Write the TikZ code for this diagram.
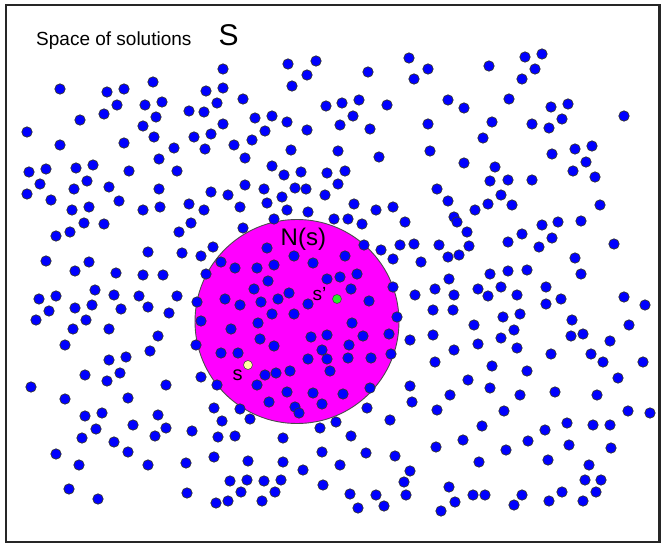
\documentclass[tikz,border=0pt]{standalone}
\usepackage{fontspec}
\setmainfont{Liberation Sans}
\definecolor{dotblue}{RGB}{0,0,255}
\definecolor{nbhd}{RGB}{255,0,255}
\definecolor{syellow}{RGB}{255,255,160}
\definecolor{sgreen}{RGB}{40,235,40}
\tikzset{
  bluedot/.style={fill=dotblue,draw=black!80,line width=0.7pt},
  frame/.style={draw=black!85,line width=2.6pt},
  lbl/.style={inner sep=0pt,anchor=base west,text=black}
}
\begin{document}
\begin{tikzpicture}[x=1pt,y=-1pt]
\useasboundingbox (0,0) rectangle (662,544);
\fill[white] (0,0) rectangle (662,544);
% neighbourhood
\filldraw[fill=nbhd,draw=black!70,line width=0.9pt] (297,321.5) circle (102pt);
% dots
\foreach \px/\py in {
60/89, 107/92, 124/89, 153/82, 117/105, 145/105, 162/102, 80/120, 104/114, 156/117, 27/132, 143/126, 60/145, 124/143, 154/137, 159/159, 29/172, 46/169, 76/168, 93/165, 129/171, 87/181, 40/184,
223/69, 288/64, 316/61, 307/75, 292/86, 206/91, 223/88, 243/99, 189/111, 204/112, 217/103, 326/106, 223/124, 255/118, 272/116, 287/122, 307/130, 194/137, 211/134, 265/131, 252/140, 174/148, 205/149, 234/145, 291/150, 245/158, 177/171, 272/166, 284/175, 301/172, 327/173, 245/185,
409/58, 428/69, 414/79, 368/72, 489/66, 342/103, 359/100, 387/105, 353/116, 340/125, 370/129, 448/100, 464/108, 428/124, 492/122, 483/138, 338/151, 379/157, 430/151, 464/163, 345/171, 495/167, 490/181, 338/184,
525/57, 542/54, 535/69, 522/79, 509/99, 551/107, 568/104, 624/116, 532/124, 549/128, 562/119, 552/154, 575/149, 592/146, 586/162, 573/171, 595/177, 508/180, 532/180,
27/194, 51/200, 74/189, 109/187, 119/201, 159/189, 72/210, 89/207, 143/210, 160/207, 84/223, 104/224, 56/236, 70/232, 148/252, 46/261, 75/271, 89/262, 116/273, 143/275, 163/275, 39/299, 56/296, 95/290, 114/295, 139/296, 49/311, 36/320, 75/308, 92/305, 121/309, 148/307, 86/320, 73/329, 109/329, 65/345, 158/336, 150/351, 109/360, 126/357,
211/192, 228/195, 264/189, 282/197, 295/188, 306/189, 325/195, 189/204, 204/210, 240/207, 267/203, 287/210, 308/212, 191/223, 179/232, 243/228, 274/219, 213/247, 182/253, 201/256, 221/262, 267/248, 294/256, 313/263, 235/268, 257/268, 274/265, 206/274, 268/281, 327/279, 177/296, 254/289, 289/293, 197/302, 225/299, 240/305, 261/302, 278/299, 308/304, 169/313, 272/314, 294/314, 201/321, 231/329, 258/323, 311/337, 327/335, 196/345, 260/339, 274/346, 221/353, 238/353, 322/350, 308/359, 327/359,
437/189, 448/201, 354/204, 376/210, 393/207, 475/210, 488/204, 334/219, 348/219, 362/224, 405/222, 454/217, 457/222, 467/232, 364/245, 381/250, 400/245, 414/244, 439/245, 469/246, 448/257, 459/255, 345/256, 393/259, 421/262, 490/274, 357/274, 340/277, 449/279, 351/289, 393/287, 435/289, 454/295, 478/289, 488/296, 415/295, 369/301, 433/310, 453/310, 397/317, 352/323, 363/336, 389/334, 410/340, 433/335, 474/325, 349/345, 454/350, 478/344, 348/358, 371/358, 391/354,
501/195, 512/205, 600/205, 542/225, 558/222, 581/221, 522/234, 552/238, 508/242, 539/247, 614/244, 575/258, 581/274, 508/271, 527/270, 501/287, 517/295, 546/287, 546/304, 561/299, 624/297, 645/305, 503/317, 520/314, 514/330, 572/320, 501/338, 571/336, 583/334, 629/325, 610/341, 517/348, 551/354, 591/354, 603/362, 643/362,
85/375, 107/381, 120/373, 31/387, 65/399, 128/398, 85/416, 102/413, 96/429, 133/425, 158/415, 82/438, 114/442, 155/436, 166/428, 166/385, 56/454, 79/465, 128/452, 148/465, 69/489, 98/499,
330/371, 290/371, 276/373, 265/375, 257/385, 217/385, 201/377, 370/388, 343/394, 313/393, 287/392, 322/404, 295/407, 299/413, 269/402, 240/409, 214/408, 222/421, 250/419, 192/431, 218/437, 235/436, 283/438, 320/428, 336/422, 351/436, 367/408, 390/420, 410/386, 412/402,
187/493, 216/503, 228/501, 241/492, 262/501, 275/492, 230/481, 247/480, 264/481, 281/480, 323/485, 350/494, 358/508, 376/495, 384/506, 404/482, 406/495, 441/511, 449/487, 455/502, 473/495, 485/495, 514/505, 522/495, 549/501, 562/492, 583/501, 596/492, 585/480, 601/480,
186/463, 214/457, 248/461, 283/462, 303/470, 322/452, 340/465, 366/453, 395/456, 410/471,
435/362, 468/380, 492/366, 527/371, 618/378, 450/395, 490/388, 520/395, 555/392, 597/395, 628/411, 650/413, 437/410, 482/426, 504/411, 545/430, 567/423, 593/425, 610/425, 436/447, 463/440, 479/462, 506/450, 528/441, 548/460, 569/445, 589/465, 611/448}
  \filldraw[bluedot] (\px,\py) circle (5.2pt);
% frame
\draw[frame] (6,5) rectangle (659.5,542);
% labels
\node[lbl,font=\fontsize{19}{21}\selectfont] (title) at (36,45) {Space of solutions};
\node[lbl,font=\fontsize{30}{32}\selectfont] (bigS) at (218.5,45) {S};
\node[lbl,font=\fontsize{24}{26}\selectfont] (Ns) at (280.5,245) {N(s)};
% special solutions
\filldraw[fill=syellow,draw=black!70,line width=0.6pt] (248,365) circle (4.5pt) node (s) {};
\filldraw[fill=sgreen,draw=black!70,line width=0.6pt] (337,299) circle (4.5pt) node (sp) {};
\node[lbl,font=\fontsize{20}{22}\selectfont] (slbl) at (232.5,380) {s};
\node[lbl,font=\fontsize{19}{21}\selectfont] (splbl) at (312.5,300) {s’};
\end{tikzpicture}
\end{document}
